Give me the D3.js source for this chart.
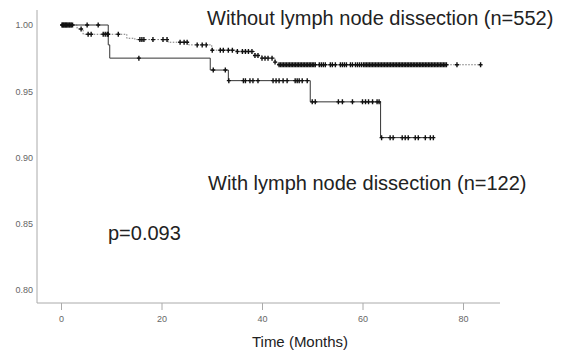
<!DOCTYPE html>
<meta charset="utf-8">
<style>
body { margin: 0; background: #fff; }
svg { font-family: Arial, "Liberation Sans", sans-serif; }
.tick text { fill: #666; font-size: 9px; }
.tick line { stroke: #aaa; }
.note { fill: #222; font-size: 20px; }
</style>
<svg width="561" height="358"></svg>
<script src="https://d3js.org/d3.v7.min.js"></script>
<script>
// step curves (time in months, survival)
var woTimes = [0, 3.2, 4.4, 13.1, 14.7, 21.3, 25.4, 30.0, 35.0, 38.6, 40.0, 42.6, 43.2];
var woSurv  = [1.0, 0.997, 0.993, 0.990, 0.989, 0.987, 0.985, 0.981, 0.980, 0.977, 0.975, 0.972, 0.970];
var woEnd = 83.5;
var woCensor = [0.2, 0.5, 0.8, 1.1, 1.4, 1.7, 2.0, 2.3, 4.0, 5.4, 6.0, 8.4, 8.8, 9.2, 9.4, 11.4,
  15.7, 16.1, 16.5, 18.3, 20.3, 21.1, 23.7, 24.5, 25.1, 27.1, 28.1, 28.9, 30.1, 31.7, 32.3,
  33.3, 34.1, 35.1, 36.1, 36.7, 37.3, 38.0, 38.6, 39.2, 40.0, 40.6, 41.2, 42.0, 42.6,
  43.4, 43.7, 44.0, 44.3, 44.6, 44.9, 45.2, 45.5, 45.8, 46.1, 46.4, 46.7, 47.0, 47.3, 47.6,
  47.9, 48.2, 48.5, 48.8, 49.1, 49.4, 49.7, 50.0, 50.3, 50.6, 51.4, 51.8, 52.2, 52.6, 53.6,
  54.0, 54.6, 55.6, 56.0, 56.4, 56.8, 57.6, 58.0, 58.6, 59.0, 59.4, 59.8, 60.2, 60.5, 60.8,
  61.1, 61.4, 61.7, 62.0, 62.3, 62.6, 62.9, 63.2, 63.5, 63.8, 64.1, 64.4, 64.7, 65.0, 65.3,
  65.6, 65.9, 66.2, 66.5, 66.8, 67.1, 67.4, 67.7, 68.0, 68.3, 68.6, 68.9, 69.2, 69.5, 69.8,
  70.1, 70.4, 70.7, 71.0, 71.3, 71.6, 71.9, 72.2, 72.5, 72.8, 73.1, 73.4, 73.7, 74.0, 74.3,
  74.6, 74.9, 75.2, 75.5, 75.8, 76.1, 76.4, 76.7, 78.8, 83.5];

var wTimes = [0, 9.4, 9.7, 29.7, 33.3, 49.6, 63.6];
var wSurv  = [1.0, 0.985, 0.975, 0.966, 0.958, 0.942, 0.915];
var wEnd = 74.1;
var wCensor = [0.3, 0.6, 0.9, 1.2, 1.6, 2.0, 5.2, 7.4, 15.5, 30.3, 32.7, 33.4, 36.3, 36.7,
  37.6, 38.2, 39.2, 42.2, 42.8, 43.4, 44.2, 45.0, 46.6, 47.0, 47.4, 48.0, 49.0, 50.0, 50.6,
  55.2, 56.0, 58.0, 60.0, 60.6, 61.2, 62.0, 62.9, 63.3, 63.8, 65.5, 66.1, 67.9, 68.5, 69.1,
  70.5, 71.1, 72.5, 73.5, 74.1];

var xTicks = [0, 20, 40, 60, 80];
var yTicks = [0.80, 0.85, 0.90, 0.95, 1.00];

var svg = d3.select("svg");
var x = d3.scaleLinear().domain([0, 80]).range([61, 463]);
var y = d3.scaleLinear().domain([0.80, 1.00]).range([290, 25]);

// axes
svg.append("line").attr("x1", 37).attr("x2", 37).attr("y1", 10).attr("y2", 303)
  .attr("stroke", "#aaa");
svg.append("line").attr("x1", 37).attr("x2", 500).attr("y1", 303).attr("y2", 303)
  .attr("stroke", "#aaa");

var gx = svg.append("g").attr("transform", "translate(0,303)")
  .call(d3.axisBottom(x).tickValues(xTicks).tickSize(7).tickSizeOuter(0).tickPadding(6));
gx.select(".domain").remove();

var gy = svg.append("g").attr("transform", "translate(37,0)")
  .call(d3.axisLeft(y).tickValues(yTicks).tickFormat(d3.format(".2f")).tickSize(0).tickPadding(4));
gy.select(".domain").remove();

svg.append("text").attr("x", 300).attr("y", 347).attr("text-anchor", "middle")
  .attr("fill", "#222").style("font-size", "15px").text("Time (Months)");

function stepPath(times, surv, end) {
  var pts = [];
  times.forEach(function(t, i) {
    if (i > 0) pts.push([t, surv[i - 1]]);
    pts.push([t, surv[i]]);
  });
  pts.push([end, surv[surv.length - 1]]);
  return d3.line().x(function(d) { return x(d[0]); }).y(function(d) { return y(d[1]); })(pts);
}

function survAt(times, surv, t) {
  var i = d3.bisectRight(times, t) - 1;
  return surv[Math.max(0, i)];
}

function drawCurve(times, surv, end, censor, dashed) {
  svg.append("path").attr("d", stepPath(times, surv, end))
    .attr("fill", "none")
    .attr("stroke", dashed ? "#666" : "#333")
    .attr("stroke-width", dashed ? 0.9 : 1)
    .attr("stroke-dasharray", dashed ? "1.5,1.5" : null);
  var g = svg.append("g");
  censor.forEach(function(t) {
    var cx = x(t), cy = y(survAt(times, surv, t));
    g.append("path")
      .attr("d", "M" + (cx - 2) + "," + cy + "H" + (cx + 2) + "M" + cx + "," + (cy - 2.5) + "V" + (cy + 2.5))
      .attr("stroke", "#111").attr("stroke-width", 1.4);
  });
}

drawCurve(wTimes, wSurv, wEnd, wCensor, false);
drawCurve(woTimes, woSurv, woEnd, woCensor, true);

svg.append("text").attr("class", "note").attr("x", 207).attr("y", 25)
  .text("Without lymph node dissection (n=552)");
svg.append("text").attr("class", "note").attr("x", 208).attr("y", 190)
  .text("With lymph node dissection (n=122)");
svg.append("text").attr("class", "note").attr("x", 108).attr("y", 240)
  .text("p=0.093");
</script>
